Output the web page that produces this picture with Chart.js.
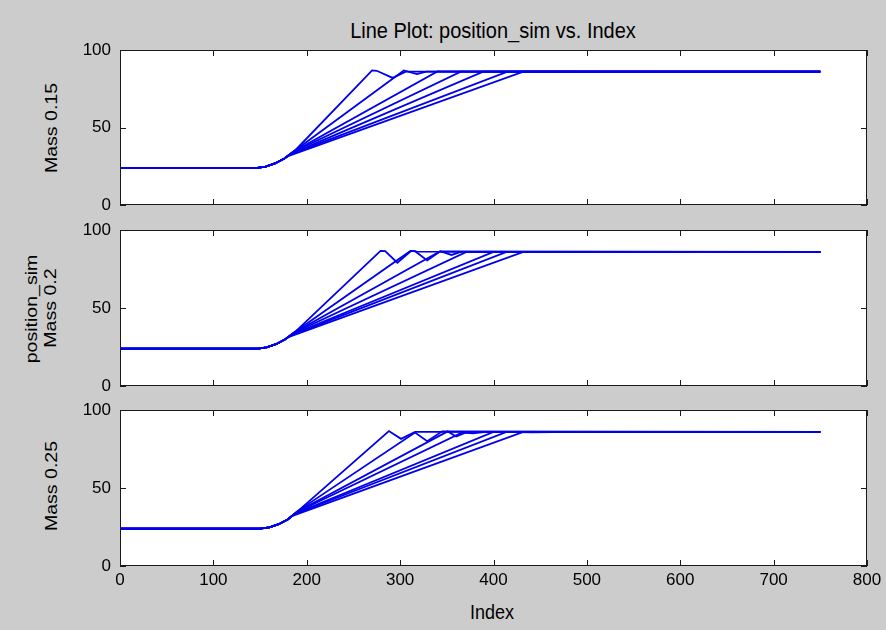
<!DOCTYPE html>
<html>
<head>
<meta charset="utf-8">
<title>Line Plot: position_sim vs. Index</title>
<script src="https://cdn.jsdelivr.net/npm/chart.js@4.4.1/dist/chart.umd.min.js"></script>
<style>
  html, body { margin: 0; padding: 0; }
  body { width: 886px; height: 630px; background: #cccccc; position: relative; overflow: hidden;
         font-family: "Liberation Sans", Arial, sans-serif; color: #000; }
  canvas { position: absolute; left: 0; }
  .lbl { position: absolute; white-space: nowrap; line-height: 1; transform: translate(-50%, -50%) scaleY(1.12); }
  .rot { transform: translate(-50%, -50%) rotate(-90deg) scaleX(1.15); }
</style>
</head>
<body>
<div class="lbl" style="left:493px;top:30px;font-size:20px">Line Plot: position_sim vs. Index</div>
<div class="lbl rot" id="lab0" style="left:51px;top:128px;font-size:17px"></div>
<div class="lbl rot" style="left:31px;top:309px;font-size:17px">position_sim</div>
<div class="lbl rot" id="lab1" style="left:50px;top:308px;font-size:17px"></div>
<div class="lbl rot" id="lab2" style="left:51px;top:486px;font-size:17px"></div>
<div class="lbl" style="left:492px;top:612px;font-size:18px">Index</div>

<canvas id="p0" width="886" height="179" style="top:38px"></canvas>
<canvas id="p1" width="886" height="180" style="top:218px"></canvas>
<canvas id="p2" width="886" height="198" style="top:398px"></canvas>

<script>
// ticks and panel names
const xTicks = [0, 100, 200, 300, 400, 500, 600, 700, 800];
const yTicks = [0, 50, 100];
const panelLabels = ['Mass 0.15', 'Mass 0.2', 'Mass 0.25'];

// shared flat start + ramp, then one tail per run: [index, position]
const lead015 = [[0, 24], [147, 24], [156, 24.8], [166, 26.8], [176, 30]];
const mass015 = [
  [[188, 35.5], [270, 86.8], [275, 86.6], [292, 82], [306, 86], [750, 86]],
  [[187, 35], [304, 86.8], [318, 84.5], [328, 86], [750, 86]],
  [[186, 34.5], [340, 86.2], [750, 86]],
  [[185, 34], [365, 86], [750, 86]],
  [[183, 33], [389, 86], [750, 86]],
  [[182, 32.5], [415, 86], [750, 86]],
  [[180, 31.5], [432, 86], [750, 86]],
];

const lead02 = [[0, 24], [148, 24], [157, 24.8], [167, 26.8], [177, 30]];
const mass02 = [
  [[189, 35.5], [279, 86.6], [284, 86.4], [297, 79], [312, 86.6], [318, 86.2], [750, 86]],
  [[188, 35], [311, 86.6], [316, 86.4], [329, 80.5], [343, 86.3], [750, 86]],
  [[187, 34.5], [343, 86.4], [355, 84], [365, 86], [750, 86]],
  [[186, 34], [371, 86], [750, 86]],
  [[184, 33], [400, 86], [750, 86]],
  [[183, 32.5], [414, 86], [750, 86]],
  [[181, 31.5], [432, 86], [750, 86]],
];

const lead025 = [[0, 24], [150, 24], [160, 24.8], [170, 26.8], [180, 30]];
const mass025 = [
  [[192, 36], [288, 86.5], [301, 81.5], [316, 86], [750, 86]],
  [[191, 35.5], [316, 85.5], [329, 80], [345, 86.3], [750, 86]],
  [[190, 35], [351, 86.3], [360, 83], [372, 86], [750, 86]],
  [[189, 34.5], [366, 85.5], [378, 85], [392, 86], [750, 86]],
  [[187, 33.5], [400, 86], [750, 86]],
  [[186, 33], [414, 86], [440, 85.6], [490, 86], [750, 86]],
  [[184, 32], [432, 86], [750, 86]],
];

const lineColor = 'rgb(0,0,235)';

// white axes box with inward ticks on all four sides
const boxPlugin = {
  id: 'matlabBox',
  beforeDraw(chart) {
    const a = chart.chartArea, ctx = chart.ctx;
    ctx.save();
    ctx.fillStyle = '#ffffff';
    ctx.fillRect(a.left, a.top, a.right - a.left, a.bottom - a.top);
    ctx.restore();
  },
  afterDraw(chart) {
    const a = chart.chartArea, ctx = chart.ctx;
    const x = chart.scales.x, y = chart.scales.y;
    const len = 6;
    ctx.save();
    ctx.strokeStyle = '#1a1a1a';
    ctx.lineWidth = 1;
    ctx.strokeRect(a.left + 0.5, a.top + 0.5, a.right - a.left - 1, a.bottom - a.top - 1);
    ctx.beginPath();
    x.ticks.forEach(t => {
      const px = Math.round(x.getPixelForValue(t.value)) + 0.5;
      ctx.moveTo(px, a.bottom); ctx.lineTo(px, a.bottom - len);
      ctx.moveTo(px, a.top); ctx.lineTo(px, a.top + len);
    });
    y.ticks.forEach(t => {
      const py = Math.round(y.getPixelForValue(t.value)) + 0.5;
      ctx.moveTo(a.left, py); ctx.lineTo(a.left + len, py);
      ctx.moveTo(a.right, py); ctx.lineTo(a.right - len, py);
    });
    ctx.stroke();
    ctx.restore();
  }
};

function makePanel(id, lead, tails, showX) {
  const datasets = tails.map(tail => ({
    data: lead.concat(tail).map(([x, y]) => ({ x, y })),
    borderColor: lineColor,
    borderWidth: 1.8,
    pointRadius: 0,
    tension: 0,
    fill: false,
  }));
  new Chart(document.getElementById(id), {
    type: 'line',
    data: { datasets },
    plugins: [boxPlugin],
    options: {
      responsive: false,
      animation: false,
      devicePixelRatio: 1,
      layout: { padding: { top: 12, right: 19, bottom: showX ? 0 : 12, left: 0 } },
      plugins: { legend: { display: false }, tooltip: { enabled: false } },
      scales: {
        x: {
          type: 'linear', min: 0, max: 800,
          afterBuildTicks: s => { s.ticks = xTicks.map(v => ({ value: v })); },
          ticks: { display: showX, padding: 4, color: '#000', font: { family: 'Liberation Sans', size: 17 } },
          grid: { display: false, drawTicks: false },
          border: { display: false },
          afterFit: s => { s.height = showX ? 30 : 0; s.paddingLeft = 0; s.paddingRight = 0; },
        },
        y: {
          type: 'linear', min: 0, max: 100,
          afterBuildTicks: s => { s.ticks = yTicks.map(v => ({ value: v })); },
          ticks: { padding: 9, color: '#000', font: { family: 'Liberation Sans', size: 17 } },
          grid: { display: false, drawTicks: false },
          border: { display: false },
          afterFit: s => { s.width = 120; s.paddingTop = 0; s.paddingBottom = 0; },
        },
      },
    },
  });
}

panelLabels.forEach((t, i) => { document.getElementById('lab' + i).textContent = t; });
makePanel('p0', lead015, mass015, false);
makePanel('p1', lead02, mass02, false);
makePanel('p2', lead025, mass025, true);
</script>
</body>
</html>
